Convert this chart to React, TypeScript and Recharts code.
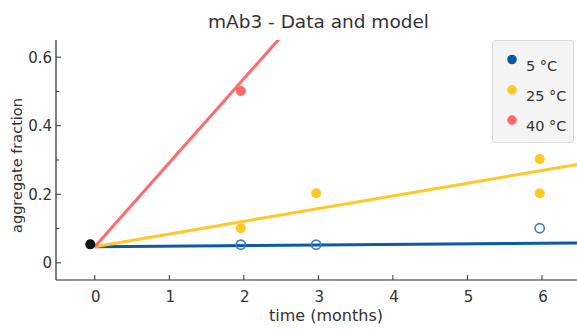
import React from 'react';
import { ComposedChart, Line, Scatter, XAxis, YAxis, Legend } from 'recharts';

const FONT = '"DejaVu Sans", Verdana, sans-serif';
const TEXT = '#333333';

const BLUE = '#0b5aa8';
const BLUE_OPEN = '#3d7fc6';
const YELLOW = '#ffc824';
const RED = '#ff6b6b';
const BLACK = '#111111';

// Axis ticks
const xTicks = [0, 1, 2, 3, 4, 5, 6];
const yTicks = [0, 0.1, 0.2, 0.3, 0.4, 0.5, 0.6];
const yMajorTicks = [0, 0.2, 0.4, 0.6];

// Measured aggregate fraction (time in months)
const initialTimes = [-0.06];
const initialValues = [0.054];

const times5 = [1.96, 2.97, 5.97];
const values5 = [0.053, 0.053, 0.101];

const times25 = [1.96, 2.97, 5.97, 5.97];
const values25 = [0.101, 0.203, 0.303, 0.203];

const times40 = [1.96];
const values40 = [0.501];

// Model fits (linear growth from the starting fraction)
const modelTimes = [0, 6.5];
const model5 = [0.047, 0.058];
const model25 = [0.047, 0.288];
const model40 = [0.047, 1.64];

const legendNames = ['5 °C', '25 °C', '40 °C'];
const legendColors = [BLUE, YELLOW, RED];

const toRows = (ts: number[], vs: number[]) => ts.map((t, i) => ({ t, v: vs[i] }));

const initialData = toRows(initialTimes, initialValues);
const data5 = toRows(times5, values5);
const data25 = toRows(times25, values25);
const data40 = toRows(times40, values40);
const fit5 = toRows(modelTimes, model5);
const fit25 = toRows(modelTimes, model25);
const fit40 = toRows(modelTimes, model40);

const XTick = (props: any) => {
  const { x, y, payload } = props;
  return (
    <g>
      <line x1={x} x2={x} y1={y} y2={y - 5} stroke={TEXT} strokeWidth={1} />
      <text x={x + 1} y={y + 22} textAnchor="middle" fontSize={15} fill={TEXT} fontFamily={FONT}>
        {payload.value}
      </text>
    </g>
  );
};

const YTick = (props: any) => {
  const { x, y, payload } = props;
  const major = yMajorTicks.includes(payload.value);
  return (
    <g>
      <line x1={x} x2={x + (major ? 5 : 3)} y1={y} y2={y} stroke={TEXT} strokeWidth={1} />
      {major && (
        <text x={x - 4} y={y} dy="0.36em" textAnchor="end" fontSize={15} fill={TEXT} fontFamily={FONT}>
          {payload.value === 0 ? '0' : payload.value.toFixed(1)}
        </text>
      )}
    </g>
  );
};

const dot = (color: string) => (p: any) => <circle cx={p.cx} cy={p.cy} r={5} fill={color} stroke="none" />;
const ring = (color: string) => (p: any) => (
  <circle cx={p.cx} cy={p.cy} r={4.6} fill="none" stroke={color} strokeWidth={1.6} />
);

const LegendBox = () => (
  <div
    style={{
      width: 82,
      height: 103,
      boxSizing: 'border-box',
      background: '#f4f4f4',
      border: '1px solid #dcdcdc',
      borderRadius: 3,
      position: 'relative',
      fontFamily: FONT,
    }}
  >
    <svg width={82} height={103} style={{ position: 'absolute', left: -1, top: -1 }}>
      {legendNames.map((name, i) => (
        <g key={name}>
          <circle cx={20} cy={19.5 + i * 30.3} r={4.8} fill={legendColors[i]} />
          <text x={34} y={30.5 + i * 30.3} fontSize={14.5} fill={TEXT} fontFamily={FONT}>
            {name}
          </text>
        </g>
      ))}
    </svg>
  </div>
);

export default function App() {
  return (
    <div style={{ position: 'absolute', left: 0, top: 0, width: 577, height: 331, background: '#fff' }}>
      <ComposedChart width={577} height={331} margin={{ top: 40, right: 0, bottom: 0, left: 0 }}>
        <XAxis
          type="number"
          dataKey="t"
          domain={[-0.52, 6.47]}
          ticks={xTicks}
          allowDataOverflow
          height={51}
          tickSize={0}
          tickMargin={0}
          tickLine={false}
          axisLine={{ stroke: '#2a2a2a', strokeWidth: 1.2 }}
          tick={<XTick />}
          interval={0}
        />
        <YAxis
          type="number"
          dataKey="v"
          domain={[-0.05, 0.65]}
          ticks={yTicks}
          allowDataOverflow
          width={56}
          tickSize={0}
          tickMargin={0}
          tickLine={false}
          axisLine={{ stroke: '#2a2a2a', strokeWidth: 1.2 }}
          tick={<YTick />}
          interval={0}
        />
        <Legend
          layout="vertical"
          align="center"
          verticalAlign="middle"
          content={<LegendBox />}
          wrapperStyle={{ left: 492, top: 40, width: 82, height: 103 }}
        />
        <Scatter name="start" data={initialData} fill={BLACK} shape={dot(BLACK)} isAnimationActive={false} legendType="none" />
        <Scatter name="5 °C" data={data5} fill={BLUE} shape={ring(BLUE_OPEN)} isAnimationActive={false} />
        <Scatter name="25 °C" data={data25} fill={YELLOW} shape={dot(YELLOW)} isAnimationActive={false} />
        <Scatter name="40 °C" data={data40} fill={RED} shape={dot(RED)} isAnimationActive={false} />
        <Line data={fit5} dataKey="v" stroke={BLUE} strokeWidth={3} dot={false} activeDot={false} isAnimationActive={false} legendType="none" />
        <Line data={fit25} dataKey="v" stroke={YELLOW} strokeWidth={3} dot={false} activeDot={false} isAnimationActive={false} legendType="none" />
        <Line data={fit40} dataKey="v" stroke={RED} strokeWidth={3} dot={false} activeDot={false} isAnimationActive={false} legendType="none" />
      </ComposedChart>
      <svg width={577} height={331} style={{ position: 'absolute', left: 0, top: 0, pointerEvents: 'none' }}>
        <text x={318.5} y={28} textAnchor="middle" fontSize={18.5} fill={TEXT} fontFamily={FONT}>
          mAb3 - Data and model
        </text>
        <text x={326} y={321} textAnchor="middle" fontSize={16} fill={TEXT} fontFamily={FONT}>
          time (months)
        </text>
        <text
          x={21.5}
          y={165.5}
          transform="rotate(-90 21.5 165.5)"
          textAnchor="middle"
          fontSize={14.5}
          fill={TEXT}
          fontFamily={FONT}
        >
          aggregate fraction
        </text>
      </svg>
    </div>
  );
}
